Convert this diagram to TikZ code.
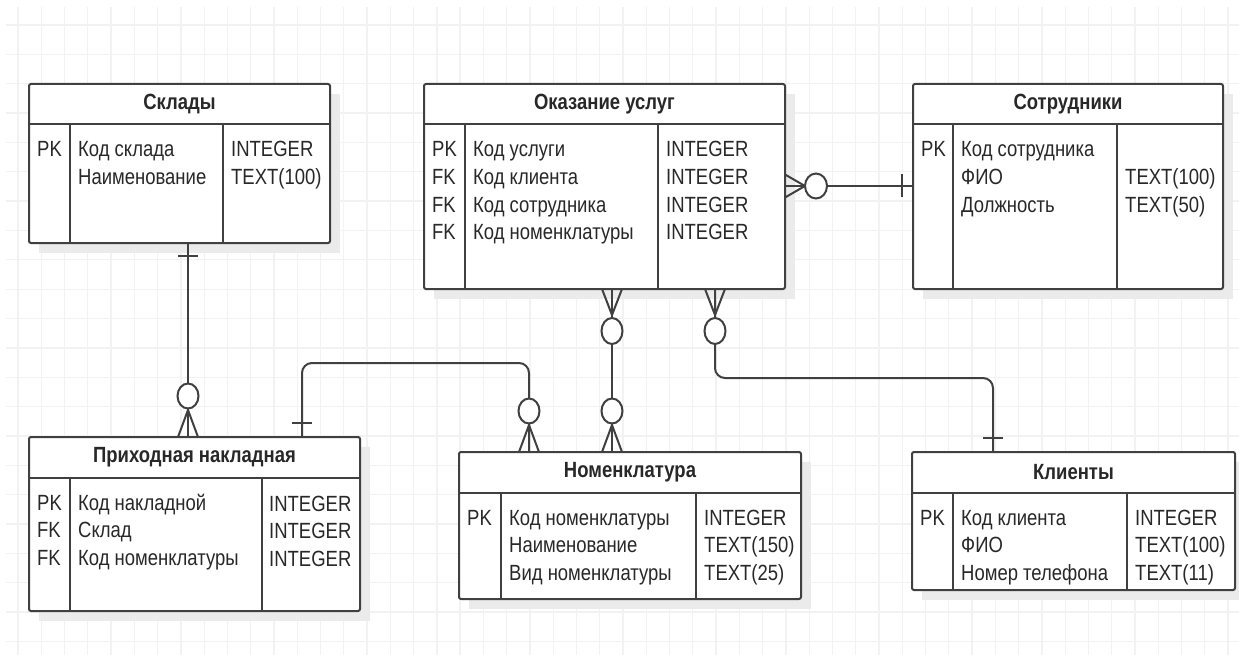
\documentclass[tikz,border=0pt]{standalone}
\usepackage{fontspec}
\setmainfont{Liberation Sans}[FakeStretch=0.84]
\usetikzlibrary{calc}
\definecolor{gridc}{HTML}{F2F2F2}
\definecolor{shadowc}{HTML}{EBEBEB}
\definecolor{linec}{HTML}{404040}
\definecolor{txtc}{HTML}{282828}
\tikzset{
  tablebox/.style={draw=linec, line width=2pt, fill=white, rounded corners=2pt, inner sep=0pt, outer sep=0pt},
  tline/.style={draw=linec, line width=2pt},
  conn/.style={draw=linec, line width=2pt},
  titletxt/.style={font=\fontsize{22}{26}\selectfont\bfseries, text=txtc, inner sep=0pt},
  celltxt/.style={font=\fontsize{22}{26}\selectfont, text=txtc, anchor=base west, inner sep=0pt},
}
\newcommand\ertab[9]{%
  \fill[shadowc] (#2+10,#3+10) rectangle (#4+10,#5+10);
  \node[tablebox, minimum width={#4-#2}, minimum height={#5-#3}] (#1) at ({(#2+#4)/2},{(#3+#5)/2}) {};
  \draw[tline] (#2,#6) -- (#4,#6);
  \draw[tline] (#7,#6) -- (#7,#5);
  \draw[tline] (#8,#6) -- (#8,#5);
  \node[titletxt] (#1-title) at ({(#2+#4)/2},{(#3+#6)/2}) {#9};
}
\newcommand\ercol[4]{%
  \foreach \t [count=\i] in {#4} {\node[celltxt] (#1-\i) at (#2,{#3+27.5*(\i-1)}) {\t};}
}
\begin{document}
\begin{tikzpicture}[x=1pt,y=-1pt]
\useasboundingbox (0,0) rectangle (1239,655);
\fill[white] (0,0) rectangle (1239,655);
% grid
\foreach \k in {0,...,52} \draw[gridc, line width=1.3pt] ({18+23.27*\k},7) -- ({18+23.27*\k},655);
\foreach \k in {0,...,21} \draw[gridc, line width=1.3pt] (6,{25+29.35*\k}) -- (1239,{25+29.35*\k});

% tables
\ertab{sklady}{29}{84}{330}{243}{124}{70}{223}{Склады}
\ercol{sklady-k}{37}{157}{PK}
\ercol{sklady-n}{78}{157}{Код склада, Наименование}
\ercol{sklady-t}{231}{157}{INTEGER, TEXT(100)}

\ertab{okaz}{424}{84}{785}{289}{124}{465}{658}{Оказание услуг}
\ercol{okaz-k}{432}{157}{PK, FK, FK, FK}
\ercol{okaz-n}{473}{157}{Код услуги, Код клиента, Код сотрудника, Код номенклатуры}
\ercol{okaz-t}{666}{157}{INTEGER, INTEGER, INTEGER, INTEGER}

\ertab{sotr}{913}{84}{1223}{289}{124}{953}{1117}{Сотрудники}
\ercol{sotr-k}{921}{157}{PK}
\ercol{sotr-n}{961}{157}{Код сотрудника, ФИО, Должность}
\ercol{sotr-t}{1125}{157}{{}, TEXT(100), TEXT(50)}

\ertab{prih}{29}{437}{360}{611}{478}{70}{262}{Приходная накладная}
\ercol{prih-k}{37}{510}{PK, FK, FK}
\ercol{prih-n}{78}{510}{Код накладной, Склад, Код номенклатуры}
\ercol{prih-t}{269}{511}{INTEGER, INTEGER, INTEGER}

\ertab{nom}{459}{452}{801}{599}{493}{501}{696}{Номенклатура}
\ercol{nom-k}{467}{525}{PK}
\ercol{nom-n}{509}{525}{Код номенклатуры, Наименование, Вид номенклатуры}
\ercol{nom-t}{704}{525}{INTEGER, TEXT(150), TEXT(25)}

\ertab{kli}{912}{452}{1235}{590}{493}{953}{1127}{Клиенты}
\ercol{kli-k}{920}{525}{PK}
\ercol{kli-n}{961}{525}{Код клиента, ФИО, Номер телефона}
\ercol{kli-t}{1135}{525}{INTEGER, TEXT(100), TEXT(11)}

% connector endpoints
\coordinate (c1s) at ($(sklady.south west)+(159,0)$);
\coordinate (c1e) at ($(prih.north west)+(159,0)$);
\coordinate (c2s) at ($(prih.north west)+(273,0)$);
\coordinate (c2e) at ($(nom.north west)+(70,0)$);
\coordinate (c3s) at ($(okaz.south west)+(188,0)$);
\coordinate (c3e) at ($(nom.north west)+(153,0)$);
\coordinate (c4s) at ($(okaz.south west)+(291,0)$);
\coordinate (c4e) at ($(kli.north west)+(81,0)$);
\coordinate (c5s) at ($(okaz.north east)+(0,102)$);
\coordinate (c5e) at ($(sotr.north west)+(0,102)$);

% C1: Склады -- Приходная накладная
\draw[conn] (c1s) -- (c1e);
\draw[conn] (c1s) ++(-10,13) -- ++(20,0);
\draw[conn, fill=white] ($(c1e)+(0,-41)$) ellipse [x radius=10.5, y radius=12.5];
\draw[conn] (c1e) ++(-10,0) -- ++(10,-27) -- ++(10,27);
\draw[conn] (c1e) -- ++(0,-27);

% C2: Приходная накладная -- Номенклатура
\draw[conn, rounded corners=10pt] (c2s) -- ++(0,-74) -| (c2e);
\draw[conn] (c2s) ++(-10,-14) -- ++(20,0);
\draw[conn, fill=white] ($(c2e)+(0,-41)$) ellipse [x radius=10.5, y radius=12.5];
\draw[conn] (c2e) ++(-10,0) -- ++(10,-27) -- ++(10,27);
\draw[conn] (c2e) -- ++(0,-27);

% C3: Оказание услуг -- Номенклатура
\draw[conn] (c3s) -- (c3e);
\draw[conn] (c3s) ++(-10,0) -- ++(10,26) -- ++(10,-26);
\draw[conn] (c3s) -- ++(0,26);
\draw[conn, fill=white] ($(c3s)+(0,42)$) ellipse [x radius=10.5, y radius=13];
\draw[conn, fill=white] ($(c3e)+(0,-41)$) ellipse [x radius=10.5, y radius=12.5];
\draw[conn] (c3e) ++(-10,0) -- ++(10,-27) -- ++(10,27);
\draw[conn] (c3e) -- ++(0,-27);

% C4: Оказание услуг -- Клиенты
\draw[conn, rounded corners=10pt] (c4s) -- ++(0,89) -| (c4e);
\draw[conn] (c4s) ++(-10,0) -- ++(10,26) -- ++(10,-26);
\draw[conn] (c4s) -- ++(0,26);
\draw[conn, fill=white] ($(c4s)+(0,42)$) ellipse [x radius=10.5, y radius=13];
\draw[conn] (c4e) ++(-10,-14) -- ++(20,0);

% C5: Оказание услуг -- Сотрудники
\draw[conn] (c5s) -- (c5e);
\draw[conn] (c5s) ++(0,-11.5) -- ++(20,11.5) -- ++(-20,11.5);
\draw[conn] (c5s) -- ++(20,0);
\draw[conn, fill=white] ($(c5s)+(31,0)$) ellipse [x radius=11, y radius=12.5];
\draw[conn] (c5e) ++(-11,-11.5) -- ++(0,23);
\end{tikzpicture}
\end{document}
